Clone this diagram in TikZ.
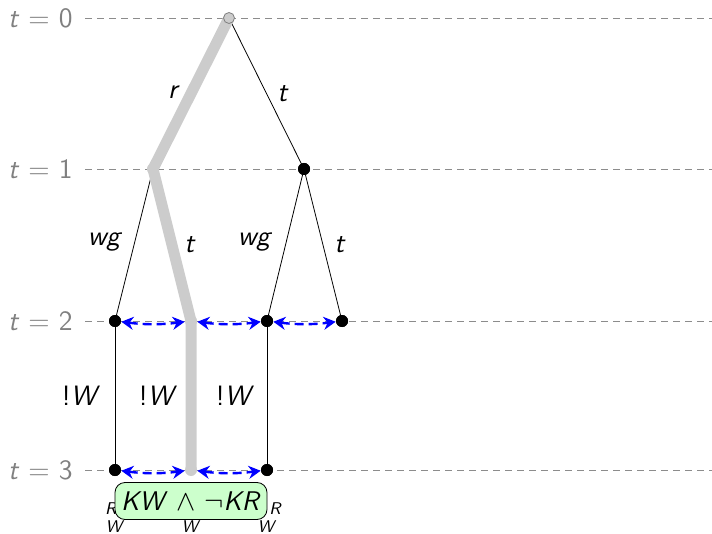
\documentclass[tikz,border=0pt]{standalone}
\usetikzlibrary{arrows.meta}
\newcommand{\mv}[1]{\textit{#1}}
\tikzset{
  base/.style={font=\sffamily\fontsize{14}{17}\selectfont},
  lvllabel/.style={base, text=gray, anchor=east, inner sep=0pt},
  lvlline/.style={gray!90, dash pattern=on 3.5pt off 2.5pt, line width=0.45pt},
  bnode/.style={circle, fill=black, minimum size=6pt, inner sep=0pt},
  gnode/.style={circle, fill=gray!40, minimum size=6pt, inner sep=0pt},
  rootnode/.style={circle, fill=gray!40, draw=gray, line width=0.4pt, minimum size=5.5pt, inner sep=0pt},
  edge/.style={black, line width=0.4pt},
  run/.style={gray!40, line width=5.5pt, line join=miter},
  elabel/.style={base, inner sep=0pt},
  indist/.style={blue, dash pattern=on 4.5pt off 2.5pt, line width=1.2pt, {Stealth[length=6pt,width=6.5pt]}-{Stealth[length=6pt,width=6.5pt]}, bend right=7},
  small/.style={font=\sffamily\fontsize{8.5}{10}\selectfont, inner sep=0pt},
  goal/.style={font=\sffamily\fontsize{13.5}{16}\selectfont, draw=black, fill=green!20, rounded corners=5pt, line width=0.4pt, minimum width=76pt, minimum height=18.5pt, inner xsep=1pt, inner ysep=2pt}
}
\begin{document}
\begin{tikzpicture}[x=0.5pt, y=-0.5pt]
\useasboundingbox (0,0) rectangle (712,534);
% level lines
\foreach \l/\y in {0/18, 1/169, 2/321, 3/470} {
  \draw[lvlline] (85,\y) -- (712,\y);
  \node[lvllabel] (L\l) at (73,\y) {\mv{t} = \l};
}
% nodes
\coordinate (n0) at (229,18);
\node[gnode] (a1) at (153,169) {};
\node[bnode] (b1) at (304,169) {};
\node[bnode] (a2) at (115,321) {};
\node[gnode] (b2) at (191,321) {};
\node[bnode] (c2) at (267,321) {};
\node[bnode] (d2) at (342,321) {};
\node[bnode] (a3) at (115,470) {};
\node[gnode] (b3) at (191,470) {};
\node[bnode] (c3) at (267,470) {};
% thin edges
\draw[edge] (n0) -- (b1.center);
\draw[edge] (a1.center) -- (a2.center);
\draw[edge] (b1.center) -- (c2.center);
\draw[edge] (b1.center) -- (d2.center);
\draw[edge] (a2.center) -- (a3.center);
\draw[edge] (c2.center) -- (c3.center);
% thick run
\draw[run] (n0) -- (a1.center) -- (b2.center) -- (b3.center);
\node[rootnode] (r0) at (n0) {};
% redraw black nodes on top
\foreach \n in {b1,a2,c2,d2,a3,c3} { \node[bnode] at (\n) {}; }
% edge labels
\node[elabel] (lr) at (174,92) {\mv{r}};
\node[elabel] (lt1) at (283,94) {\mv{t}};
\node[elabel] (lwg1) at (105,242) {\mv{wg}};
\node[elabel] (lt2) at (190,245) {\mv{t}};
\node[elabel] (lwg2) at (255,242) {\mv{wg}};
\node[elabel] (lt3) at (340,245) {\mv{t}};
\node[elabel] (lw1) at (81,396) {!\mv{W}};
\node[elabel] (lw2) at (158,396) {!\mv{W}};
\node[elabel] (lw3) at (235,396) {!\mv{W}};
% indistinguishability arrows
\draw[indist] (a2) to (b2);
\draw[indist] (b2) to (c2);
\draw[indist] (c2) to (d2);
\draw[indist] (a3) to (b3);
\draw[indist] (b3) to (c3);
% small labels
\node[small, anchor=east] (sr1) at (118,509) {\mv{R}};
\node[small] (sw1) at (115,527) {\mv{W}};
\node[small] (sw2) at (191,527) {\mv{W}};
\node[small, anchor=west] (sr3) at (269,509) {\mv{R}};
\node[small] (sw3) at (267,527) {\mv{W}};
% goal box
\node[goal] (g) at (191,501) {\mv{KW} $\wedge$ $\neg$\mv{KR}};
\end{tikzpicture}
\end{document}
